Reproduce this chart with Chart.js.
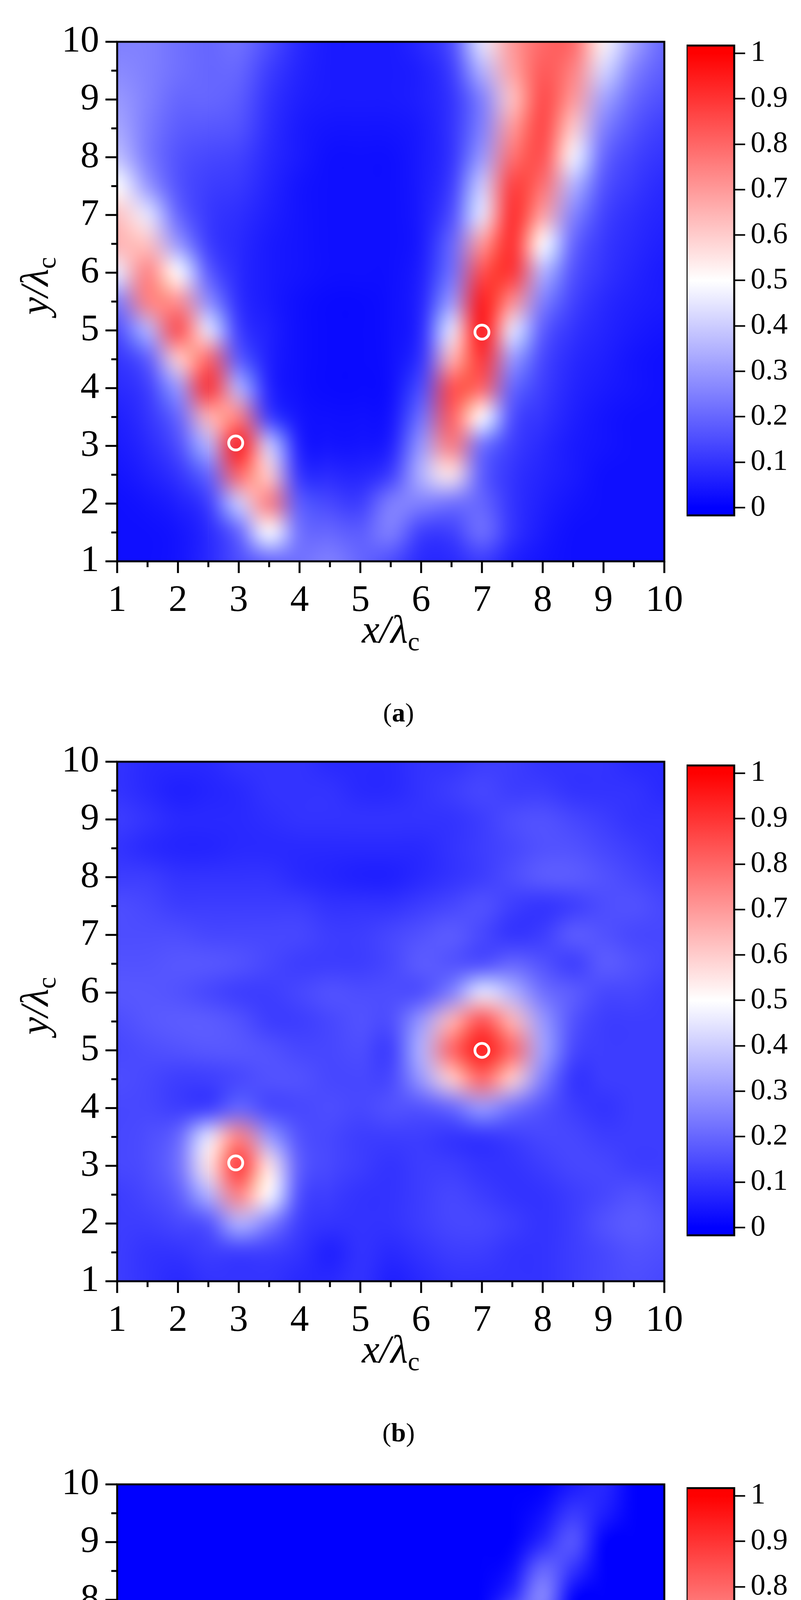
<!DOCTYPE html>
<html><head><meta charset="utf-8">
<script src="https://cdn.jsdelivr.net/npm/chart.js@4"></script>
<style>
html,body{margin:0;padding:0;background:#fff;width:2051px;height:5564px;overflow:hidden;}
.panel{position:absolute;left:0;width:2051px;height:1870px;}
canvas{position:absolute;}
</style></head><body>
<div id="root"></div>
<script>
// ---- data ----
const gridX = [1,1.5,2,2.5,3,3.5,4,4.5,5,5.5,6,6.5,7,7.5,8,8.5,9,9.5,10];
const gridY = [10,9.5,9,8.5,8,7.5,7,6.5,6,5.5,5,4.5,4,3.5,3,2.5,2,1.5,1]; // rows, top to bottom
const axisTicks = [1,2,3,4,5,6,7,8,9,10];
const cbTicks = [0,0.1,0.2,0.3,0.4,0.5,0.6,0.7,0.8,0.9,1];
const cbTickLabels = ['0','0.1','0.2','0.3','0.4','0.5','0.6','0.7','0.8','0.9','1'];
const captions = ['a','b','c'];
const targetsX = [2.95, 7.0];
const targetsYa = [3.05, 4.97];
const targetsYb = [3.05, 5.0];
const targetsYc = [3.05, 5.0];

const fieldA = [
[.25,.25,.22,.2,.22,.15,.08,.05,.05,.05,.08,.15,.45,.7,.8,.8,.52,.32,.2],
[.27,.25,.22,.2,.2,.12,.07,.05,.05,.05,.06,.12,.35,.68,.83,.75,.42,.25,.18],
[.3,.25,.2,.2,.18,.1,.06,.05,.05,.05,.06,.1,.25,.62,.86,.7,.32,.2,.15],
[.33,.24,.18,.17,.16,.09,.05,.04,.04,.04,.05,.1,.25,.7,.87,.6,.25,.16,.12],
[.38,.24,.16,.14,.13,.08,.05,.03,.03,.03,.05,.1,.3,.78,.85,.48,.2,.13,.1],
[.5,.3,.16,.12,.11,.07,.04,.03,.03,.03,.05,.12,.4,.88,.78,.35,.16,.11,.08],
[.62,.45,.2,.11,.09,.06,.04,.03,.03,.03,.05,.15,.45,.92,.68,.26,.13,.09,.07],
[.65,.62,.3,.12,.08,.05,.04,.03,.03,.03,.05,.2,.7,.92,.5,.2,.11,.08,.06],
[.45,.75,.5,.18,.08,.05,.04,.03,.03,.03,.06,.22,.85,.9,.35,.16,.1,.07,.05],
[.25,.75,.72,.28,.09,.05,.03,.02,.02,.03,.07,.3,.95,.72,.25,.13,.08,.06,.05],
[.15,.35,.85,.45,.12,.06,.03,.02,.02,.03,.08,.45,.97,.45,.18,.1,.07,.05,.04],
[.1,.18,.6,.8,.18,.06,.03,.02,.02,.03,.1,.65,.9,.3,.14,.08,.06,.04,.03],
[.08,.12,.3,.9,.35,.07,.03,.02,.02,.03,.15,.85,.8,.2,.12,.07,.05,.04,.03],
[.06,.1,.2,.65,.75,.12,.04,.03,.03,.04,.22,.82,.5,.15,.1,.06,.04,.03,.03],
[.05,.08,.15,.35,.95,.4,.06,.04,.04,.06,.3,.75,.22,.12,.08,.05,.04,.03,.03],
[.04,.06,.1,.2,.8,.6,.1,.08,.07,.12,.35,.55,.18,.1,.07,.05,.03,.03,.03],
[.03,.04,.06,.12,.4,.75,.18,.14,.12,.25,.25,.22,.2,.1,.06,.04,.03,.03,.03],
[.03,.03,.04,.08,.2,.5,.22,.2,.18,.25,.12,.12,.22,.1,.05,.03,.03,.03,.03],
[.03,.03,.04,.08,.15,.2,.22,.25,.2,.15,.08,.08,.12,.06,.04,.03,.03,.03,.03]
];
const fieldB = [
[.1,.08,.08,.08,.1,.1,.1,.08,.08,.08,.1,.1,.12,.12,.1,.1,.1,.08,.08],
[.1,.08,.06,.07,.08,.1,.1,.1,.08,.08,.1,.12,.14,.12,.12,.1,.1,.1,.08],
[.12,.1,.08,.08,.08,.09,.1,.1,.1,.1,.1,.1,.12,.15,.16,.14,.12,.1,.1],
[.1,.08,.07,.07,.08,.08,.08,.08,.08,.08,.08,.1,.12,.14,.16,.16,.14,.12,.1],
[.12,.12,.1,.1,.1,.1,.08,.07,.06,.06,.08,.1,.12,.15,.18,.18,.16,.14,.12],
[.15,.14,.12,.12,.12,.12,.12,.1,.1,.1,.12,.14,.16,.12,.1,.12,.15,.16,.14],
[.15,.15,.15,.14,.14,.14,.14,.12,.12,.14,.16,.18,.14,.1,.12,.18,.16,.14,.14],
[.16,.16,.17,.17,.16,.14,.12,.12,.12,.14,.18,.16,.15,.2,.16,.12,.18,.16,.14],
[.17,.17,.16,.14,.12,.12,.14,.16,.15,.15,.15,.25,.45,.35,.22,.18,.14,.14,.12],
[.15,.17,.18,.18,.16,.12,.12,.14,.16,.15,.3,.65,.85,.65,.3,.16,.12,.12,.12],
[.14,.15,.16,.17,.17,.16,.14,.14,.15,.12,.35,.8,.95,.8,.32,.14,.12,.12,.12],
[.15,.14,.12,.12,.14,.16,.16,.14,.14,.14,.3,.6,.8,.6,.25,.1,.12,.12,.12],
[.14,.14,.12,.12,.2,.14,.14,.15,.14,.16,.16,.2,.3,.22,.16,.12,.1,.12,.12],
[.14,.15,.2,.45,.75,.3,.16,.14,.12,.12,.12,.1,.1,.12,.14,.14,.12,.12,.12],
[.14,.15,.22,.55,.9,.55,.18,.14,.12,.1,.12,.12,.1,.1,.12,.14,.14,.12,.12],
[.12,.14,.18,.35,.75,.5,.15,.12,.1,.1,.12,.14,.12,.1,.1,.12,.14,.16,.14],
[.12,.12,.14,.16,.35,.25,.12,.1,.1,.1,.12,.14,.14,.12,.1,.12,.16,.18,.16],
[.12,.1,.1,.12,.12,.12,.1,.06,.1,.08,.1,.12,.12,.1,.1,.12,.14,.16,.15],
[.12,.1,.08,.1,.1,.1,.08,.08,.1,.06,.08,.1,.1,.1,.1,.12,.14,.15,.14]
];
const fieldC = [
[0,0,0,0,0,0,0,0,0,0,0,0,0,0,0,.05,.08,0,0],
[0,0,0,0,0,0,0,0,0,0,0,0,0,0,.03,.12,.06,0,0],
[0,0,0,0,0,0,0,0,0,0,0,0,0,0,.08,.18,0,0,0],
[0,0,0,0,0,0,0,0,0,0,0,0,0,.03,.22,.1,0,0,0],
[0,0,0,0,0,0,0,0,0,0,0,0,0,.1,.28,0,0,0,0],
[0,0,0,0,0,0,0,0,0,0,0,0,0,.3,.15,0,0,0,0],
[0,0,0,0,0,0,0,0,0,0,0,0,.05,.45,.12,0,0,0,0],
[0,0,0,0,0,0,0,0,0,0,0,0,.2,.55,0,0,0,0,0],
[0,.06,0,0,0,0,0,0,0,0,0,0,.45,.6,0,0,0,0,0],
[0,.06,.12,0,0,0,0,0,0,0,0,0,.8,.3,0,0,0,0,0],
[0,0,.2,0,0,0,0,0,0,0,0,.2,.9,0,0,0,0,0,0],
[0,0,.08,.25,0,0,0,0,0,0,0,.55,.45,0,0,0,0,0,0],
[0,0,0,.45,.1,0,0,0,0,0,0,.45,.2,0,0,0,0,0,0],
[0,0,0,.35,.6,0,0,0,0,0,0,.25,0,0,0,0,0,0,0],
[0,0,0,0,.9,0,0,0,0,0,.03,.08,0,0,0,0,0,0,0],
[0,0,0,0,.4,.3,0,0,0,0,0,0,0,0,0,0,0,0,0],
[0,0,0,0,.05,.15,0,0,0,0,0,0,0,0,0,0,0,0,0],
[0,0,0,0,0,0,0,0,0,0,0,0,0,0,0,0,0,0,0],
[0,0,0,0,0,0,0,0,0,0,0,0,0,0,0,0,0,0,0]
];
const fields = [fieldA, fieldB, fieldC];
const targetsY = [targetsYa, targetsYb, targetsYc];

// ---- layout ----
const panelTops = [0, 1843, 3693];
const CH = 1870;
const PT = 107, PL = 300, PR = 1701, PB = 1437;
const CB_L = 1758, CB_W = 122, CB_H = 1222;
const FONT = '"Liberation Serif","Times New Roman",serif';

function cmap(v){
  v = Math.max(0, Math.min(1, v));
  if (v < 0.5){ const t = v/0.5; return [Math.round(255*t), Math.round(255*t), 255]; }
  const t = (v-0.5)/0.5; return [255, Math.round(255*(1-t)), Math.round(255*(1-t))];
}

const heatPlugin = {
  id:'heat',
  beforeDatasetsDraw(chart){
    const f = chart.options.plugins.heat.field;
    const nx = gridX.length, ny = gridY.length;
    const off = document.createElement('canvas'); off.width = nx; off.height = ny;
    const oc = off.getContext('2d'); const img = oc.createImageData(nx, ny);
    for (let j=0;j<ny;j++) for (let i=0;i<nx;i++){
      const c = cmap(f[j][i]); const k = (j*nx+i)*4;
      img.data[k]=c[0]; img.data[k+1]=c[1]; img.data[k+2]=c[2]; img.data[k+3]=255;
    }
    oc.putImageData(img,0,0);
    const xs = chart.scales.x, ys = chart.scales.y, a = chart.chartArea, ctx = chart.ctx;
    const hx = (gridX[1]-gridX[0])/2, hy = (gridY[0]-gridY[1])/2;
    const x0 = xs.getPixelForValue(gridX[0]-hx), x1 = xs.getPixelForValue(gridX[nx-1]+hx);
    const y0 = ys.getPixelForValue(gridY[0]+hy), y1 = ys.getPixelForValue(gridY[ny-1]-hy);
    ctx.save(); ctx.beginPath(); ctx.rect(a.left,a.top,a.right-a.left,a.bottom-a.top); ctx.clip();
    ctx.imageSmoothingEnabled = true; ctx.imageSmoothingQuality = 'high';
    ctx.drawImage(off, x0, y0, x1-x0, y1-y0);
    ctx.restore();
  },
  afterDraw(chart){
    const ctx = chart.ctx, a = chart.chartArea, xs = chart.scales.x, ys = chart.scales.y;
    ctx.save();
    ctx.strokeStyle = '#000'; ctx.lineWidth = 5;
    ctx.strokeRect(a.left, a.top, a.right-a.left, a.bottom-a.top);
    for (let v=1; v<=10.001; v+=0.5){
      const major = Math.abs(v-Math.round(v))<1e-6; const L = major?30:15;
      const px = xs.getPixelForValue(v);
      ctx.beginPath(); ctx.moveTo(px, a.bottom); ctx.lineTo(px, a.bottom+L); ctx.stroke();
      const py = ys.getPixelForValue(v);
      ctx.beginPath(); ctx.moveTo(a.left, py); ctx.lineTo(a.left-L, py); ctx.stroke();
    }
    ctx.fillStyle = '#000'; ctx.textBaseline = 'alphabetic';
    function title(x, y, rot, letter){
      ctx.save(); ctx.translate(x,y); ctx.rotate(rot);
      const parts = [[letter+'/', 'italic 102px '+FONT, 0],['λ','italic 102px '+FONT,0],['c','68px '+FONT,20]];
      let w=0; parts.forEach(p=>{ctx.font=p[1]; w+=ctx.measureText(p[0]).width;});
      let cx=-w/2; ctx.textAlign='left';
      parts.forEach(p=>{ctx.font=p[1]; ctx.fillText(p[0], cx, p[2]); cx+=ctx.measureText(p[0]).width;});
      ctx.restore();
    }
    title((a.left+a.right)/2, a.bottom+208, 0, 'x');
    title(122, (a.top+a.bottom)/2 - 40, -Math.PI/2, 'y');
    const cap = chart.options.plugins.heat.caption;
    ctx.textAlign='left';
    const parts = [['(', '68px '+FONT],[cap,'bold 68px '+FONT],[')','68px '+FONT]];
    let w=0; parts.forEach(p=>{ctx.font=p[1]; w+=ctx.measureText(p[0]).width;});
    let cx = (a.left+a.right)/2 - w/2 + 20;
    parts.forEach(p=>{ctx.font=p[1]; ctx.fillText(p[0], cx, a.bottom+410); cx+=ctx.measureText(p[0]).width;});
    ctx.restore();
  }
};

const cbPlugin = {
  id:'cbBox',
  afterDraw(chart){
    const ctx = chart.ctx, a = chart.chartArea;
    ctx.save(); ctx.strokeStyle='#000'; ctx.lineWidth=5;
    ctx.strokeRect(a.left, a.top, a.right-a.left, a.bottom-a.top); ctx.restore();
  }
};

const root = document.getElementById('root');
panelTops.forEach((top, p) => {
  const div = document.createElement('div'); div.className='panel'; div.style.top = top+'px';
  root.appendChild(div);
  const cv = document.createElement('canvas'); cv.width=2051; cv.height=CH;
  cv.style.left='0px'; cv.style.top='0px'; cv.style.width='2051px'; cv.style.height=CH+'px';
  div.appendChild(cv);
  new Chart(cv, {
    type:'scatter',
    data:{ datasets:[{
      data: targetsX.map((x,i)=>({x:x, y:targetsY[p][i]})),
      pointStyle:'circle', pointRadius:18, borderColor:'#fff', borderWidth:7,
      backgroundColor:'rgba(0,0,0,0)'
    }]},
    options:{
      responsive:false, animation:false, devicePixelRatio:1,
      layout:{padding:{left:0, top:PT, right:2051-PR, bottom:0}},
      plugins:{legend:{display:false}, tooltip:{enabled:false}, heat:{field:fields[p], caption:captions[p]}},
      scales:{
        x:{type:'linear', min:1, max:10, grid:{display:false}, border:{display:false},
           afterBuildTicks:s=>{s.ticks=axisTicks.map(v=>({value:v}));},
           afterFit:s=>{s.height=CH-PB;},
           ticks:{font:{family:FONT,size:96}, color:'#000', padding:36, maxRotation:0, autoSkip:false}},
        y:{type:'linear', min:1, max:10, grid:{display:false}, border:{display:false},
           afterBuildTicks:s=>{s.ticks=axisTicks.map(v=>({value:v}));},
           afterFit:s=>{s.width=PL;},
           ticks:{font:{family:FONT,size:96}, color:'#000', padding:38, autoSkip:false}}
      }
    },
    plugins:[heatPlugin]
  });
  const cb = document.createElement('canvas'); cb.width=293; cb.height=CB_H+100;
  cb.style.left=CB_L+'px'; cb.style.top=(PT-50)+'px'; cb.style.width='293px'; cb.style.height=(CB_H+100)+'px';
  div.appendChild(cb);
  new Chart(cb, {
    type:'bar',
    data:{ labels:['cb'], datasets:[{ data:[[-0.017,1.017]], borderWidth:0,
      barPercentage:1, categoryPercentage:1,
      backgroundColor:(c)=>{
        const a = c.chart.chartArea; if(!a) return '#00f';
        const ys = c.chart.scales.y;
        const g = c.chart.ctx.createLinearGradient(0, ys.getPixelForValue(0), 0, ys.getPixelForValue(1));
        for (let k=0;k<=20;k++){ const v=k/20; const col=cmap(v); g.addColorStop(v,'rgb('+col.join(',')+')'); }
        return g;
      }}]},
    options:{
      responsive:false, animation:false, devicePixelRatio:1,
      layout:{padding:{left:0,top:50,right:0,bottom:50}},
      plugins:{legend:{display:false}, tooltip:{enabled:false}},
      scales:{
        x:{display:false},
        y:{type:'linear', position:'right', min:-0.017, max:1.017,
           afterBuildTicks:s=>{s.ticks=cbTicks.map(v=>({value:v}));},
           afterFit:s=>{s.width=293-CB_W;},
           border:{display:false},
           grid:{drawOnChartArea:false, drawTicks:true, tickLength:28, tickWidth:4, tickColor:'#000'},
           ticks:{font:{family:FONT,size:76}, color:'#000', padding:14,
             callback:(v,i)=>cbTickLabels[i]}}
      }
    },
    plugins:[cbPlugin]
  });
});
</script></body></html>
